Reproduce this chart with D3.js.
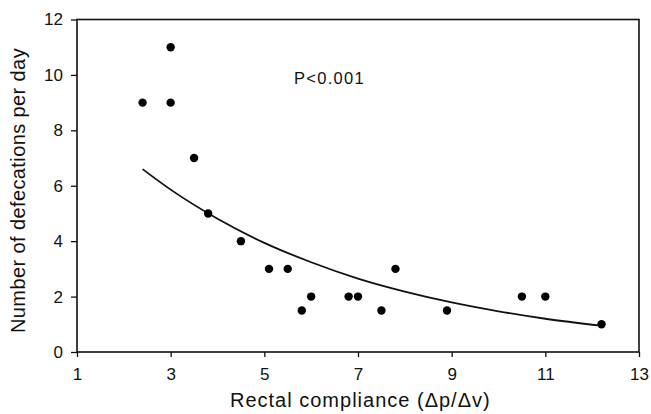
<!DOCTYPE html>
<html><head><meta charset="utf-8">
<script src="https://cdn.jsdelivr.net/npm/d3@7"></script>
<style>body{margin:0;background:#fff}text{font-family:"Liberation Sans",Arial,sans-serif;fill:#111}</style>
</head><body><svg id="c" width="651" height="414"></svg>
<script>
const compliance = [2.4, 3.0, 3.0, 3.5, 3.8, 4.5, 5.1, 5.5, 5.8, 6.0, 6.8, 7.0, 7.5, 7.8, 8.9, 10.5, 11.0, 12.2];
const defecations = [9, 11, 9, 7, 5, 4, 3, 3, 1.5, 2, 2, 2, 1.5, 3, 1.5, 2, 2, 1];
const fitX = [2.4, 3, 4, 5, 6, 7, 8, 9, 10, 11, 12.2];
const fitY = [6.6, 5.86, 4.81, 3.94, 3.24, 2.65, 2.18, 1.79, 1.47, 1.2, 0.95];
const xTicks = [1, 3, 5, 7, 9, 11, 13];
const yTicks = [0, 2, 4, 6, 8, 10, 12];
const annotation = "P<0.001";

const svg = d3.select("#c");
const L = 77, R = 639, T = 19.5, B = 352;
const x = d3.scaleLinear().domain([1, 13]).range([L, R]);
const y = d3.scaleLinear().domain([0, 12]).range([B, T]);

const xa = svg.append("g").attr("transform", `translate(0,${B})`)
  .call(d3.axisBottom(x).tickValues(xTicks).tickSize(5).tickPadding(11).tickFormat(d3.format("d")));
const ya = svg.append("g").attr("transform", `translate(${L},0)`)
  .call(d3.axisLeft(y).tickValues(yTicks).tickSize(6).tickPadding(8).tickFormat(d3.format("d")));
[xa, ya].forEach(a => {
  a.select(".domain").remove();
  a.selectAll("line").attr("stroke", "#111").attr("stroke-width", 1.3);
  a.selectAll("text").style("font-size", "17px").attr("fill", "#111");
});
svg.append("rect").attr("x", L).attr("y", T).attr("width", R - L).attr("height", B - T)
  .attr("fill", "none").attr("stroke", "#111").attr("stroke-width", 1.6);

const line = d3.line().x((d, i) => x(fitX[i])).y((d, i) => y(fitY[i])).curve(d3.curveMonotoneX);
svg.append("path").attr("d", line(fitX)).attr("fill", "none").attr("stroke", "#111").attr("stroke-width", 1.8);

svg.selectAll("circle.pt").data(compliance).enter().append("circle")
  .attr("cx", d => x(d)).attr("cy", (d, i) => y(defecations[i])).attr("r", 4.2).attr("fill", "#000");

svg.append("text").attr("x", 294).attr("y", 83.5).style("font-size", "16.5px").style("letter-spacing", "1.3px").text(annotation);

svg.append("text").attr("x", 230).attr("y", 407)
  .style("font-size", "20px").style("letter-spacing", "1px").text("Rectal compliance (\u0394p/\u0394v)");
svg.append("text").attr("transform", `translate(25,190.5) rotate(-90)`).attr("text-anchor", "middle")
  .style("font-size", "20px").style("letter-spacing", "0.4px").text("Number of defecations per day");
</script></body></html>
